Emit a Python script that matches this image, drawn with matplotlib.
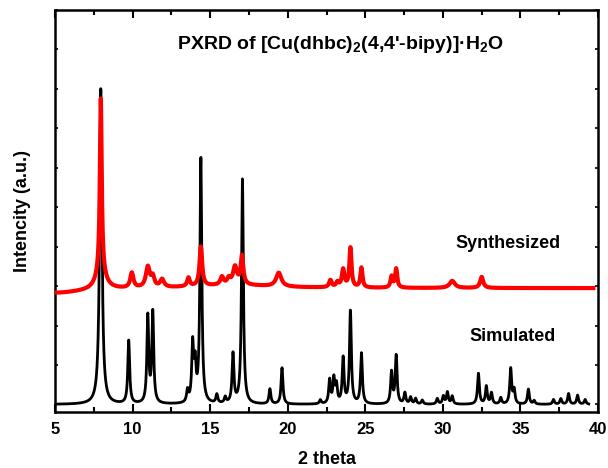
import numpy as np
import matplotlib.pyplot as plt

plt.rcParams['font.family'] = ['Liberation Sans', 'DejaVu Sans']
plt.rcParams['font.weight'] = 'bold'
plt.rcParams['mathtext.fontset'] = 'custom'
plt.rcParams['mathtext.rm'] = 'Liberation Sans:bold'
plt.rcParams['mathtext.bf'] = 'Liberation Sans:bold'
plt.rcParams['mathtext.default'] = 'rm'

# Simulated pattern: peak position (2 theta), height, half width
sim_pos = [7.95, 9.75, 10.98, 11.3, 13.54, 13.87, 14.03, 14.4, 15.43, 15.97,
           16.47, 17.08, 18.85, 19.63, 22.1, 22.7, 22.97, 23.14, 23.57, 24.04,
           24.75, 26.69, 26.99, 27.55, 27.92, 28.24, 28.67, 29.64, 30.03, 30.29,
           30.6, 32.29, 32.8, 33.13, 33.73, 34.37, 34.59, 35.51, 35.88, 37.13,
           37.6, 38.1, 38.68, 39.17]
sim_hgt = [8.0, 1.6, 2.2, 2.3, 0.3, 1.45, 0.9, 6.2, 0.22, 0.15,
           1.25, 5.7, 0.38, 0.92, 0.1, 0.6, 0.62, 0.45, 1.15, 2.35,
           1.28, 0.8, 1.22, 0.28, 0.17, 0.14, 0.1, 0.14, 0.2, 0.3,
           0.2, 0.78, 0.45, 0.28, 0.16, 0.9, 0.35, 0.38, 0.09, 0.12,
           0.14, 0.27, 0.23, 0.12]
sim_wid = [0.09] + [0.07] * (len(sim_pos) - 1)
sim_end = 39.4

# Synthesized pattern: peaks sit on a baseline, broad entries shape the baseline
syn_base = 2.95
syn_pos = [5.0, 16.5, 7.95, 7.95, 9.95, 10.98, 11.3, 11.9, 13.6, 14.4,
           15.76, 16.2, 16.6, 17.05, 19.42, 22.75, 23.2, 23.57, 24.04, 24.75,
           26.69, 26.99, 30.6, 32.5]
syn_hgt = [-0.13, 0.08, 4.4, 0.45, 0.38, 0.52, 0.25, 0.2, 0.22, 1.0,
           0.2, 0.15, 0.45, 0.72, 0.35, 0.18, 0.12, 0.45, 1.0, 0.5,
           0.28, 0.48, 0.18, 0.28]
syn_wid = [2.5, 3.0, 0.07, 0.35, 0.12, 0.15, 0.12, 0.15, 0.1, 0.1,
           0.12, 0.12, 0.15, 0.1, 0.2, 0.1, 0.1, 0.1, 0.08, 0.08,
           0.08, 0.08, 0.2, 0.12]
syn_end = 39.7


def profile(x, pos, hgt, wid):
    y = np.zeros_like(x)
    for p, h, g in zip(pos, hgt, wid):
        y += h * g ** 2 / ((x - p) ** 2 + g ** 2)
    return y


x_sim = np.linspace(5, sim_end, 4000)
x_syn = np.linspace(5, syn_end, 4000)
y_sim = profile(x_sim, sim_pos, sim_hgt, sim_wid)
y_syn = syn_base + profile(x_syn, syn_pos, syn_hgt, syn_wid)

fig = plt.figure(figsize=(6.08, 4.68), dpi=100)
ax = fig.add_axes([0.0905, 0.1197, 0.8931, 0.8589])

ax.plot(x_sim, y_sim, color='black', lw=2.0, zorder=2)
ax.plot(x_syn, y_syn, color='#ff0000', lw=3.0, zorder=3)

ax.set_xlim(5, 40)
ax.set_ylim(-0.19, 10)
ax.set_xticks(np.arange(5, 41, 5))
ax.set_xticks(np.arange(7.5, 40, 5), minor=True)
ax.set_yticks(np.arange(0, 11, 1))
ax.tick_params(axis='both', which='both', direction='in', top=True, right=True)
ax.tick_params(axis='x', which='major', length=6, width=1.5, labelsize=12, pad=7)
ax.tick_params(axis='x', which='minor', length=3.5, width=1.5)
ax.tick_params(axis='y', which='major', length=2.5, width=1.2, labelleft=False)
for s in ax.spines.values():
    s.set_linewidth(1.8)

ax.set_xlabel('2 theta', fontsize=13, fontweight='bold', labelpad=10)
ax.set_ylabel('Intencity (a.u.)', fontsize=13, fontweight='bold', labelpad=17)

ax.text(23.4, 9.13, "PXRD of [Cu(dhbc)$_2$(4,4'-bipy)]·H$_2$O",
        ha='center', va='center', fontsize=14, fontweight='bold')
ax.text(34.2, 4.08, 'Synthesized', ha='center', va='center', fontsize=13, fontweight='bold')
ax.text(34.47, 1.72, 'Simulated', ha='center', va='center', fontsize=13, fontweight='bold')

fig.savefig('out.png', dpi=100)
